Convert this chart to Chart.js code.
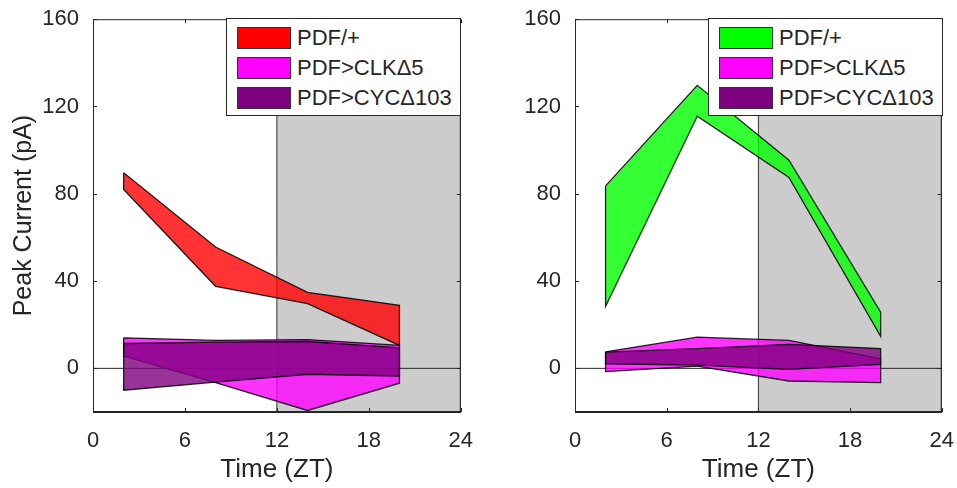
<!DOCTYPE html>
<html>
<head>
<meta charset="utf-8">
<script src="https://cdn.jsdelivr.net/npm/chart.js@4"></script>
<style>
  body { margin: 0; background: #fff; overflow: hidden; }
  #wrap { position: relative; width: 957px; height: 488px; overflow: hidden; font-family: "Liberation Sans", Arial, sans-serif; color: #262626; }
  canvas { position: absolute; top: 0; }
  .legend { position: absolute; top: 18px; height: 98px; background: #fff; border: 1px solid #262626; box-sizing: border-box; }
  .row { position: absolute; left: 10px; height: 22px; font-size: 22px; line-height: 22px; white-space: nowrap; }
  .sw { display: inline-block; width: 52px; height: 20px; border: 1px solid #333; vertical-align: top; margin-right: 6px; }
</style>
</head>
<body>
<div id="wrap">
  <canvas id="leftChart" width="481" height="488" style="left:0"></canvas>
  <canvas id="rightChart" width="482" height="488" style="left:480px"></canvas>
  <div class="legend" style="left:226px;width:235px">
    <div class="row" style="top:8px"><span class="sw" style="background:#ff0000"></span>PDF/+</div>
    <div class="row" style="top:38px"><span class="sw" style="background:#ff00ff"></span>PDF&gt;CLKΔ5</div>
    <div class="row" style="top:68px"><span class="sw" style="background:#800080"></span>PDF&gt;CYCΔ103</div>
  </div>
  <div class="legend" style="left:708px;width:235px">
    <div class="row" style="top:8px"><span class="sw" style="background:#00ff00"></span>PDF/+</div>
    <div class="row" style="top:38px"><span class="sw" style="background:#ff00ff"></span>PDF&gt;CLKΔ5</div>
    <div class="row" style="top:68px"><span class="sw" style="background:#800080"></span>PDF&gt;CYCΔ103</div>
  </div>
</div>
<script>
// sample times (ZT)
const timeZT = [2, 8, 14, 20]
const xTicks = [0, 6, 12, 18, 24]
const yTicks = [0, 40, 80, 120, 160]
const nightZT = [12, 24]
const yRange = [-20, 160]

// left panel: upper / lower edge of each band
const ctrlUpperL = [89.6, 55.6, 34.8, 28.9]
const ctrlLowerL = [82, 37.6, 29.7, 10.5]
const clkUpperL = [14, 12.8, 13.2, 10.5]
const clkLowerL = [5.6, -6.5, -19.3, -6.8]
const cycUpperL = [11.4, 12, 12.3, 9.4]
const cycLowerL = [-10, -6.3, -2.7, -3.5]

// right panel
const ctrlUpperR = [83.6, 129.7, 95.4, 25.7]
const ctrlLowerR = [28.4, 115.5, 87.5, 14.7]
const clkUpperR = [7.6, 14.3, 12.8, 4.4]
const clkLowerR = [-1.5, 1, -5.8, -6.5]
const cycUpperR = [7.4, 9, 11, 9.1]
const cycLowerR = [2.1, 1.5, -0.5, 1.8]

const FONT = '"Liberation Sans", Arial, sans-serif'
const INK = '#262626'

function band(upper, lower) {
    let pts = timeZT.map((x, i) => ({x: x, y: upper[i]}))
    for (let i = timeZT.length - 1; i >= 0; i--) pts.push({x: timeZT[i], y: lower[i]})
    pts.push(pts[0])
    return pts
}

function bandSet(label, upper, lower, color, order) {
    return {
        label: label,
        data: band(upper, lower),
        showLine: true,
        fill: 'shape',
        backgroundColor: color,
        borderColor: 'rgba(0,0,0,0.85)',
        borderWidth: 1.3,
        pointRadius: 0,
        tension: 0,
        order: order
    }
}

// box frame + inward tick marks, like the original plot
const framePlugin = {
    id: 'frame',
    afterDraw(chart) {
        const c = chart.ctx, a = chart.chartArea
        c.save()
        c.strokeStyle = INK
        c.lineWidth = 1
        c.strokeRect(a.left + 0.5, a.top + 0.5, a.right - a.left - 1, a.bottom - a.top - 1)
        c.beginPath()
        xTicks.forEach(v => {
            const px = Math.round(chart.scales.x.getPixelForValue(v)) + 0.5
            c.moveTo(px, a.bottom); c.lineTo(px, a.bottom - 4)
            c.moveTo(px, a.top); c.lineTo(px, a.top + 4)
        })
        yTicks.forEach(v => {
            const py = Math.round(chart.scales.y.getPixelForValue(v)) + 0.5
            c.moveTo(a.left, py); c.lineTo(a.left + 4, py)
            c.moveTo(a.right, py); c.lineTo(a.right - 4, py)
        })
        c.stroke()
        c.restore()
    }
}

function makeChart(id, sets, yWidth, showTitle) {
    const night = [
        {x: nightZT[0], y: yRange[0]}, {x: nightZT[0], y: yRange[1]},
        {x: nightZT[1], y: yRange[1]}, {x: nightZT[1], y: yRange[0]},
        {x: nightZT[0], y: yRange[0]}
    ]
    return new Chart(document.getElementById(id).getContext('2d'), {
        type: 'scatter',
        data: {
            datasets: [
                {data: night, showLine: true, fill: 'shape', backgroundColor: '#cccccc',
                 borderColor: '#333', borderWidth: 1, pointRadius: 0, order: 10},
                {data: [{x: xTicks[0], y: 0}, {x: xTicks[xTicks.length - 1], y: 0}], showLine: true,
                 borderColor: INK, borderWidth: 1, pointRadius: 0, fill: false, order: 9},
                ...sets
            ]
        },
        options: {
            responsive: false,
            animation: false,
            layout: {padding: {top: 18, right: 0, left: 0, bottom: 0}},
            plugins: {legend: {display: false}, tooltip: {enabled: false}},
            scales: {
                x: {
                    type: 'linear', min: 0, max: 24,
                    afterBuildTicks: s => { s.ticks = xTicks.map(v => ({value: v})) },
                    afterFit: s => { s.height = 76 },
                    grid: {display: false},
                    border: {color: INK},
                    ticks: {color: INK, font: {family: FONT, size: 22}, padding: 8},
                    title: {display: true, text: 'Time (ZT)', color: INK,
                            font: {family: FONT, size: 26}, padding: {top: 0, bottom: 3}}
                },
                y: {
                    min: yRange[0], max: yRange[1],
                    afterBuildTicks: s => { s.ticks = yTicks.map(v => ({value: v})) },
                    afterFit: s => { s.width = yWidth },
                    grid: {display: false},
                    border: {color: INK},
                    ticks: {color: INK, font: {family: FONT, size: 22}, padding: 6},
                    title: {display: showTitle, text: 'Peak Current (pA)', color: INK,
                            font: {family: FONT, size: 25}, padding: {top: 9, bottom: 0}}
                }
            }
        },
        plugins: [framePlugin]
    })
}

makeChart('leftChart', [
    bandSet('PDF/+', ctrlUpperL, ctrlLowerL, 'rgba(255,0,0,0.8)', 3),
    bandSet('PDF>CLKΔ5', clkUpperL, clkLowerL, 'rgba(255,0,255,0.8)', 2),
    bandSet('PDF>CYCΔ103', cycUpperL, cycLowerL, 'rgba(128,0,128,0.8)', 1)
], 93, true)

makeChart('rightChart', [
    bandSet('PDF/+', ctrlUpperR, ctrlLowerR, 'rgba(0,255,0,0.8)', 3),
    bandSet('PDF>CLKΔ5', clkUpperR, clkLowerR, 'rgba(255,0,255,0.8)', 2),
    bandSet('PDF>CYCΔ103', cycUpperR, cycLowerR, 'rgba(128,0,128,0.8)', 1)
], 95, false)
</script>
</body>
</html>
